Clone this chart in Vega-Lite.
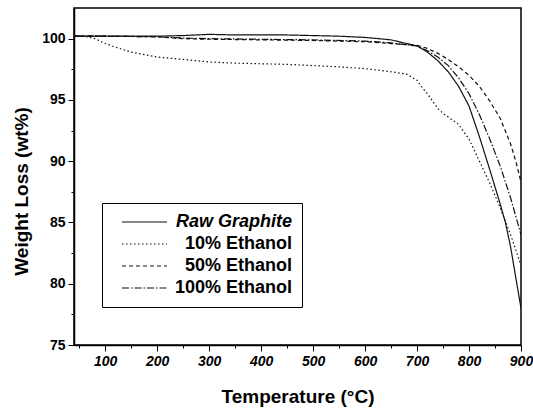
{
  "$schema": "https://vega.github.io/schema/vega-lite/v6.json",
  "width": 447,
  "height": 337,
  "autosize": {"type": "none"},
  "padding": {"left": 74, "top": 8, "right": 12, "bottom": 64},
  "config": {"view": {"stroke": "#000", "strokeWidth": 1.5}, "font": "Liberation Sans"},
  "datasets": {
    "tga": [
      {"series": "Raw Graphite", "T": 40, "w": 100.2},
      {"series": "Raw Graphite", "T": 100, "w": 100.2},
      {"series": "Raw Graphite", "T": 200, "w": 100.2},
      {"series": "Raw Graphite", "T": 250, "w": 100.25},
      {"series": "Raw Graphite", "T": 300, "w": 100.35},
      {"series": "Raw Graphite", "T": 350, "w": 100.3},
      {"series": "Raw Graphite", "T": 400, "w": 100.3},
      {"series": "Raw Graphite", "T": 450, "w": 100.3},
      {"series": "Raw Graphite", "T": 500, "w": 100.25},
      {"series": "Raw Graphite", "T": 550, "w": 100.2},
      {"series": "Raw Graphite", "T": 600, "w": 100.1},
      {"series": "Raw Graphite", "T": 650, "w": 99.9},
      {"series": "Raw Graphite", "T": 680, "w": 99.6},
      {"series": "Raw Graphite", "T": 700, "w": 99.4},
      {"series": "Raw Graphite", "T": 720, "w": 98.9},
      {"series": "Raw Graphite", "T": 740, "w": 98.2},
      {"series": "Raw Graphite", "T": 760, "w": 97.3},
      {"series": "Raw Graphite", "T": 780, "w": 96.1},
      {"series": "Raw Graphite", "T": 800, "w": 94.5},
      {"series": "Raw Graphite", "T": 820, "w": 92.0},
      {"series": "Raw Graphite", "T": 840, "w": 89.3},
      {"series": "Raw Graphite", "T": 860, "w": 86.5},
      {"series": "Raw Graphite", "T": 870, "w": 85.0},
      {"series": "Raw Graphite", "T": 880, "w": 83.0},
      {"series": "Raw Graphite", "T": 890, "w": 80.5},
      {"series": "Raw Graphite", "T": 900, "w": 78.0},

      {"series": "10% Ethanol", "T": 40, "w": 100.2},
      {"series": "10% Ethanol", "T": 60, "w": 100.2},
      {"series": "10% Ethanol", "T": 80, "w": 100.0},
      {"series": "10% Ethanol", "T": 100, "w": 99.6},
      {"series": "10% Ethanol", "T": 120, "w": 99.3},
      {"series": "10% Ethanol", "T": 150, "w": 98.9},
      {"series": "10% Ethanol", "T": 200, "w": 98.5},
      {"series": "10% Ethanol", "T": 250, "w": 98.3},
      {"series": "10% Ethanol", "T": 300, "w": 98.1},
      {"series": "10% Ethanol", "T": 350, "w": 98.0},
      {"series": "10% Ethanol", "T": 400, "w": 97.95},
      {"series": "10% Ethanol", "T": 450, "w": 97.9},
      {"series": "10% Ethanol", "T": 500, "w": 97.8},
      {"series": "10% Ethanol", "T": 550, "w": 97.7},
      {"series": "10% Ethanol", "T": 600, "w": 97.55},
      {"series": "10% Ethanol", "T": 650, "w": 97.3},
      {"series": "10% Ethanol", "T": 680, "w": 97.1},
      {"series": "10% Ethanol", "T": 700, "w": 96.6},
      {"series": "10% Ethanol", "T": 710, "w": 96.0},
      {"series": "10% Ethanol", "T": 720, "w": 95.5},
      {"series": "10% Ethanol", "T": 730, "w": 94.9},
      {"series": "10% Ethanol", "T": 740, "w": 94.3},
      {"series": "10% Ethanol", "T": 750, "w": 93.9},
      {"series": "10% Ethanol", "T": 760, "w": 93.6},
      {"series": "10% Ethanol", "T": 780, "w": 93.0},
      {"series": "10% Ethanol", "T": 800, "w": 91.8},
      {"series": "10% Ethanol", "T": 820, "w": 90.0},
      {"series": "10% Ethanol", "T": 840, "w": 88.2},
      {"series": "10% Ethanol", "T": 860, "w": 86.2},
      {"series": "10% Ethanol", "T": 880, "w": 84.0},
      {"series": "10% Ethanol", "T": 900, "w": 81.5},

      {"series": "50% Ethanol", "T": 40, "w": 100.2},
      {"series": "50% Ethanol", "T": 100, "w": 100.2},
      {"series": "50% Ethanol", "T": 200, "w": 100.15},
      {"series": "50% Ethanol", "T": 250, "w": 100.0},
      {"series": "50% Ethanol", "T": 300, "w": 99.95},
      {"series": "50% Ethanol", "T": 400, "w": 99.9},
      {"series": "50% Ethanol", "T": 500, "w": 99.85},
      {"series": "50% Ethanol", "T": 600, "w": 99.75},
      {"series": "50% Ethanol", "T": 650, "w": 99.6},
      {"series": "50% Ethanol", "T": 700, "w": 99.45},
      {"series": "50% Ethanol", "T": 720, "w": 99.2},
      {"series": "50% Ethanol", "T": 740, "w": 98.8},
      {"series": "50% Ethanol", "T": 760, "w": 98.3},
      {"series": "50% Ethanol", "T": 780, "w": 97.7},
      {"series": "50% Ethanol", "T": 800, "w": 97.0},
      {"series": "50% Ethanol", "T": 820, "w": 96.1},
      {"series": "50% Ethanol", "T": 840, "w": 94.9},
      {"series": "50% Ethanol", "T": 860, "w": 93.5},
      {"series": "50% Ethanol", "T": 880, "w": 91.4},
      {"series": "50% Ethanol", "T": 890, "w": 90.0},
      {"series": "50% Ethanol", "T": 900, "w": 88.3},

      {"series": "100% Ethanol", "T": 40, "w": 100.2},
      {"series": "100% Ethanol", "T": 100, "w": 100.2},
      {"series": "100% Ethanol", "T": 200, "w": 100.15},
      {"series": "100% Ethanol", "T": 250, "w": 100.05},
      {"series": "100% Ethanol", "T": 300, "w": 100.0},
      {"series": "100% Ethanol", "T": 400, "w": 99.95},
      {"series": "100% Ethanol", "T": 500, "w": 99.9},
      {"series": "100% Ethanol", "T": 600, "w": 99.8},
      {"series": "100% Ethanol", "T": 650, "w": 99.65},
      {"series": "100% Ethanol", "T": 700, "w": 99.4},
      {"series": "100% Ethanol", "T": 720, "w": 99.0},
      {"series": "100% Ethanol", "T": 740, "w": 98.5},
      {"series": "100% Ethanol", "T": 760, "w": 97.8},
      {"series": "100% Ethanol", "T": 780, "w": 96.8},
      {"series": "100% Ethanol", "T": 800, "w": 95.5},
      {"series": "100% Ethanol", "T": 820, "w": 93.8},
      {"series": "100% Ethanol", "T": 840, "w": 91.8},
      {"series": "100% Ethanol", "T": 860, "w": 89.6},
      {"series": "100% Ethanol", "T": 880, "w": 87.0},
      {"series": "100% Ethanol", "T": 890, "w": 85.5},
      {"series": "100% Ethanol", "T": 900, "w": 84.0}
    ]
  },
  "data": {"name": "tga"},
  "mark": {"type": "line", "strokeWidth": 1.2, "color": "#111", "clip": true},
  "encoding": {
    "x": {
      "field": "T",
      "type": "quantitative",
      "scale": {"domain": [40, 900], "nice": false, "zero": false},
      "axis": {
        "title": "Temperature (°C)",
        "values": [50, 100, 150, 200, 250, 300, 350, 400, 450, 500, 550, 600, 650, 700, 750, 800, 850, 900],
        "format": "d",
        "labelExpr": "datum.value % 100 === 0 ? datum.label : ''",
        "tickSize": {"condition": {"test": "datum.value % 100 === 0", "value": 6}, "value": 3},
        "grid": false,
        "domainColor": "#000",
        "domainWidth": 1.5,
        "tickColor": "#000",
        "labelFont": "Liberation Sans",
        "labelFontSize": 14,
        "labelFontWeight": "bold",
        "labelFontStyle": "italic",
        "labelColor": "#000",
        "labelPadding": 3,
        "labelFlush": false,
        "labelOverlap": false,
        "titleFont": "Liberation Sans",
        "titleFontSize": 19,
        "titleFontWeight": "bold",
        "titleColor": "#000",
        "titlePadding": 19
      }
    },
    "y": {
      "field": "w",
      "type": "quantitative",
      "scale": {"domain": [75, 102.5], "nice": false, "zero": false},
      "axis": {
        "title": "Weight Loss (wt%)",
        "values": [75, 77.5, 80, 82.5, 85, 87.5, 90, 92.5, 95, 97.5, 100],
        "format": "d",
        "labelExpr": "datum.value % 5 === 0 ? datum.label : ''",
        "tickSize": {"condition": {"test": "datum.value % 5 === 0", "value": 6}, "value": 3},
        "grid": false,
        "domainColor": "#000",
        "domainWidth": 1.5,
        "tickColor": "#000",
        "labelFont": "Liberation Sans",
        "labelFontSize": 14,
        "labelFontWeight": "bold",
        "labelColor": "#000",
        "labelPadding": 3,
        "labelFlush": false,
        "labelOverlap": false,
        "titleFont": "Liberation Sans",
        "titleFontSize": 19,
        "titleFontWeight": "bold",
        "titleColor": "#000",
        "titlePadding": 10,
        "titleY": 183
      }
    },
    "strokeDash": {
      "field": "series",
      "type": "nominal",
      "sort": ["Raw Graphite", "10% Ethanol", "50% Ethanol", "100% Ethanol"],
      "scale": {
        "domain": ["Raw Graphite", "10% Ethanol", "50% Ethanol", "100% Ethanol"],
        "range": [[1, 0], [1.5, 2.5], [4, 3], [7, 2, 1.5, 2]]
      },
      "legend": {
        "title": null,
        "orient": "none",
        "legendX": 28,
        "legendY": 195,
        "strokeColor": "#000",
        "fillColor": "#fff",
        "padding": 10,
        "symbolType": "M0.2,0H9.2",
        "symbolSize": 100,
        "symbolStrokeWidth": 1.2,
        "symbolStrokeColor": "#111",
        "labelFont": "Liberation Sans",
        "labelFontSize": 18,
        "labelFontWeight": "bold",
        "labelColor": "#000",
        "labelAlign": "right",
        "labelOffset": 162,
        "rowPadding": 4,
        "encode": {
          "labels": {"update": {"fontStyle": {"signal": "datum.label === 'Raw Graphite' ? 'italic' : 'normal'"}}}
        }
      }
    }
  }
}
